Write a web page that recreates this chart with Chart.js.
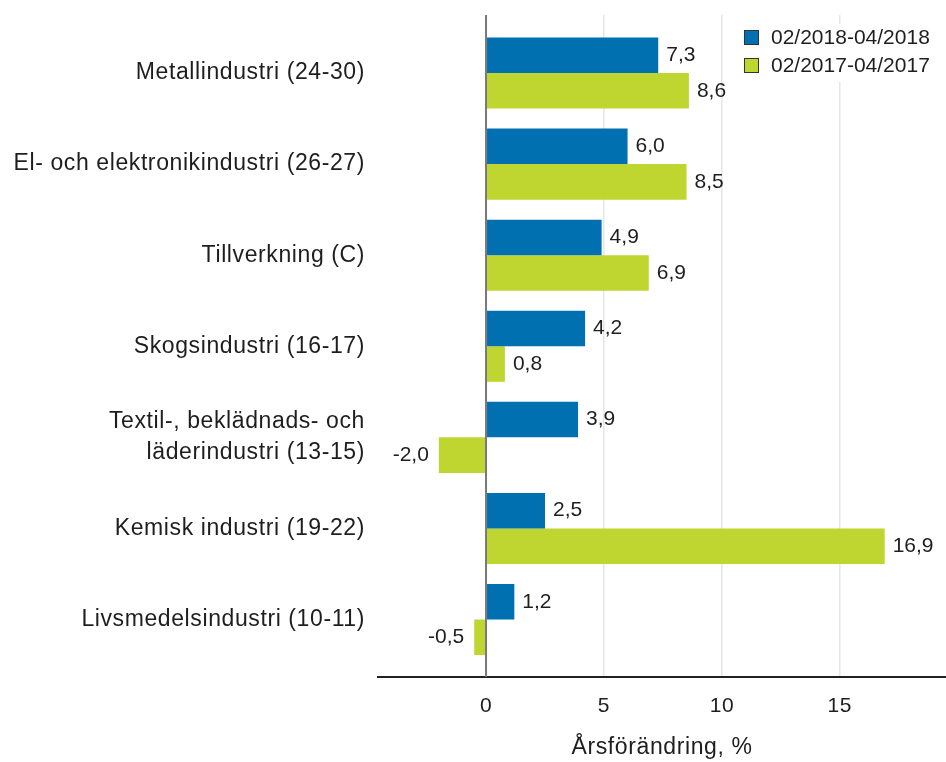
<!DOCTYPE html>
<html>
<head>
<meta charset="utf-8">
<script src="https://cdn.jsdelivr.net/npm/chart.js@4.4.1/dist/chart.umd.min.js"></script>
<style>
  html, body { margin: 0; padding: 0; background: #fff; }
</style>
</head>
<body>
<canvas id="myChart" width="946" height="762"></canvas>
<script>
// data
const categories = [
  'Metallindustri (24-30)',
  'El- och elektronikindustri (26-27)',
  'Tillverkning (C)',
  'Skogsindustri (16-17)',
  ['Textil-, beklädnads- och', 'läderindustri (13-15)'],
  'Kemisk industri (19-22)',
  'Livsmedelsindustri (10-11)'
];
const seriesNames = ['02/2018-04/2018', '02/2017-04/2017'];
const values2018 = [7.3, 6.0, 4.9, 4.2, 3.9, 2.5, 1.2];
const values2017 = [8.6, 8.5, 6.9, 0.8, -2.0, 16.9, -0.5];
const xTickValues = [0, 5, 10, 15];

const FONT = '"Liberation Sans", Arial, sans-serif';
const TEXT = '#1e1e1e';
const BLUE = '#0070b0';
const GREEN = '#bfd630';

// bars sit on a numeric y axis so the band padding can match
function toPoints(vals) {
  return vals.map((v, i) => ({ x: v, y: i }));
}

// axis texts in the original are a bit wider spaced
const spacing = {
  id: 'spacing',
  beforeDraw(chart) { chart.ctx.letterSpacing = '0.6px'; },
  beforeDatasetsDraw(chart) { chart.ctx.letterSpacing = '0px'; }
};

// value labels next to bar ends (+ zero line on top)
const valueLabels = {
  id: 'valueLabels',
  afterDatasetsDraw(chart) {
    const ctx = chart.ctx;
    const x0 = chart.scales.x.getPixelForValue(0);
    ctx.save();
    ctx.strokeStyle = '#7a7a7a';
    ctx.lineWidth = 2;
    ctx.beginPath();
    ctx.moveTo(x0, chart.chartArea.top);
    ctx.lineTo(x0, chart.chartArea.bottom);
    ctx.stroke();

    ctx.font = '21px ' + FONT;
    ctx.fillStyle = TEXT;
    ctx.textBaseline = 'middle';
    chart.data.datasets.forEach((ds, di) => {
      chart.getDatasetMeta(di).data.forEach((bar, i) => {
        const v = ds.data[i].x;
        const txt = v.toFixed(1).replace('.', ',');
        if (v >= 0) {
          ctx.textAlign = 'left';
          ctx.fillText(txt, bar.x + 8, bar.y);
        } else {
          ctx.textAlign = 'right';
          ctx.fillText(txt, bar.x - 10, bar.y);
        }
      });
    });
    ctx.restore();
  }
};

// legend inside the plot, top right
const cornerLegend = {
  id: 'cornerLegend',
  afterDraw(chart) {
    const ctx = chart.ctx;
    ctx.save();
    ctx.fillStyle = '#fff';
    ctx.fillRect(738, 24, 206, 58);
    ctx.font = '21px ' + FONT;
    ctx.textAlign = 'left';
    ctx.textBaseline = 'middle';
    chart.data.datasets.forEach((ds, i) => {
      const y = 30 + i * 28;
      ctx.fillStyle = ds.backgroundColor;
      ctx.fillRect(744, y, 15, 15);
      ctx.strokeStyle = '#333';
      ctx.lineWidth = 1;
      ctx.strokeRect(744.5, y + 0.5, 14, 14);
      ctx.fillStyle = TEXT;
      ctx.fillText(ds.label, 771, y + 8);
    });
    ctx.restore();
  }
};

const ctx = document.getElementById('myChart').getContext('2d');
const myChart = new Chart(ctx, {
  type: 'bar',
  data: {
    datasets: [{
      label: seriesNames[0],
      data: toPoints(values2018),
      backgroundColor: BLUE
    }, {
      label: seriesNames[1],
      data: toPoints(values2017),
      backgroundColor: GREEN
    }]
  },
  options: {
    indexAxis: 'y',
    responsive: false,
    animation: false,
    devicePixelRatio: 1,
    categoryPercentage: 0.78,
    barPercentage: 1,
    layout: { padding: { top: 15, right: 0, left: 0, bottom: 0 } },
    plugins: {
      legend: { display: false },
      tooltip: { enabled: false }
    },
    scales: {
      x: {
        type: 'linear',
        min: -4.58,
        max: 19.5,
        afterBuildTicks: s => { s.ticks = xTickValues.map(v => ({ value: v })); },
        afterFit: s => { s.height = 85; },
        grid: {
          color: c => (c.tick && c.tick.value === 0) ? '#7a7a7a' : '#e6e6e6',
          lineWidth: c => (c.tick && c.tick.value === 0) ? 2 : 1.5,
          drawTicks: false
        },
        border: { display: true, color: '#222', width: 2 },
        ticks: { padding: 17, color: TEXT, font: { family: FONT, size: 21 } },
        title: {
          display: true,
          text: 'Årsförändring, %',
          color: TEXT,
          font: { family: FONT, size: 23 },
          padding: { top: 0, bottom: 1 }
        }
      },
      y: {
        type: 'linear',
        reverse: true,
        offset: false,
        min: -0.637,
        max: 6.631,
        afterBuildTicks: s => { s.ticks = categories.map((c, i) => ({ value: i })); },
        afterFit: s => { s.width = 378; s.paddingTop = 0; s.paddingBottom = 0; },
        grid: { display: false, drawTicks: false },
        border: { display: false },
        ticks: {
          padding: 13,
          color: TEXT,
          font: { family: FONT, size: 23, lineHeight: 1.35 },
          callback: v => categories[v]
        }
      }
    }
  },
  plugins: [spacing, valueLabels, cornerLegend]
});
</script>
</body>
</html>
